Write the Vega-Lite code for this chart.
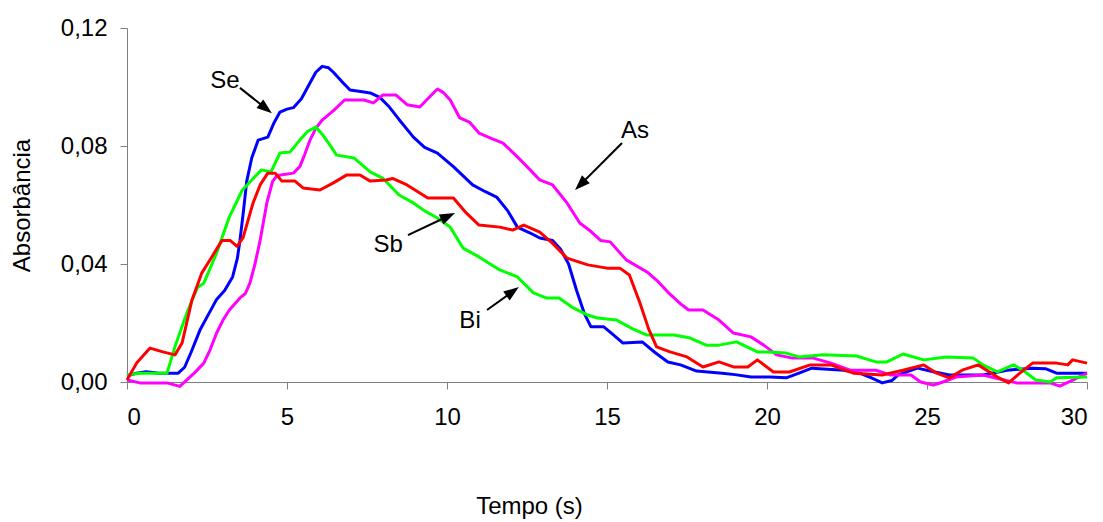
{
  "$schema": "https://vega.github.io/schema/vega-lite/v6.json",
  "width": 960,
  "height": 354,
  "autosize": {"type": "none"},
  "padding": {"left": 127, "top": 28, "right": 16, "bottom": 140},
  "background": "white",
  "config": {
    "view": {"stroke": null},
    "font": "Liberation Sans",
    "axis": {
      "grid": false,
      "domainColor": "#808080",
      "tickColor": "#808080",
      "tickSize": 7,
      "labelFont": "Liberation Sans",
      "labelFontSize": 24,
      "labelColor": "#000000",
      "titleFont": "Liberation Sans",
      "titleFontSize": 24,
      "titleFontWeight": "normal",
      "titleColor": "#000000"
    }
  },
  "datasets": {
    "curves": [
      {"s":"Se","t":0,"a":0.002},{"s":"Se","t":0.3,"a":0.003},{"s":"Se","t":0.6,"a":0.0035},{"s":"Se","t":1.0,"a":0.003},{"s":"Se","t":1.6,"a":0.003},{"s":"Se","t":1.8,"a":0.005},{"s":"Se","t":2.0,"a":0.01},{"s":"Se","t":2.28,"a":0.0176},{"s":"Se","t":2.55,"a":0.023},{"s":"Se","t":2.8,"a":0.028},{"s":"Se","t":3.05,"a":0.031},{"s":"Se","t":3.3,"a":0.0356},{"s":"Se","t":3.45,"a":0.042},{"s":"Se","t":3.53,"a":0.048},{"s":"Se","t":3.64,"a":0.058},{"s":"Se","t":3.74,"a":0.068},{"s":"Se","t":3.9,"a":0.076},{"s":"Se","t":4.1,"a":0.082},{"s":"Se","t":4.4,"a":0.083},{"s":"Se","t":4.6,"a":0.088},{"s":"Se","t":4.78,"a":0.0915},{"s":"Se","t":5.0,"a":0.0925},{"s":"Se","t":5.2,"a":0.093},{"s":"Se","t":5.45,"a":0.096},{"s":"Se","t":5.7,"a":0.101},{"s":"Se","t":5.9,"a":0.105},{"s":"Se","t":6.1,"a":0.107},{"s":"Se","t":6.3,"a":0.1065},{"s":"Se","t":6.45,"a":0.105},{"s":"Se","t":6.7,"a":0.102},{"s":"Se","t":6.97,"a":0.099},{"s":"Se","t":7.3,"a":0.0985},{"s":"Se","t":7.6,"a":0.098},{"s":"Se","t":7.9,"a":0.0965},{"s":"Se","t":8.2,"a":0.0932},{"s":"Se","t":8.5,"a":0.089},{"s":"Se","t":8.95,"a":0.083},{"s":"Se","t":9.3,"a":0.0795},{"s":"Se","t":9.7,"a":0.0776},{"s":"Se","t":10.2,"a":0.073},{"s":"Se","t":10.8,"a":0.0668},{"s":"Se","t":11.2,"a":0.0645},{"s":"Se","t":11.55,"a":0.0627},{"s":"Se","t":11.9,"a":0.058},{"s":"Se","t":12.2,"a":0.0525},{"s":"Se","t":12.6,"a":0.0505},{"s":"Se","t":12.9,"a":0.0488},{"s":"Se","t":13.3,"a":0.048},{"s":"Se","t":13.55,"a":0.045},{"s":"Se","t":13.8,"a":0.04},{"s":"Se","t":14.05,"a":0.031},{"s":"Se","t":14.3,"a":0.023},{"s":"Se","t":14.5,"a":0.0187},{"s":"Se","t":14.9,"a":0.0187},{"s":"Se","t":15.2,"a":0.016},{"s":"Se","t":15.5,"a":0.0132},{"s":"Se","t":16.1,"a":0.0136},{"s":"Se","t":16.5,"a":0.01},{"s":"Se","t":16.9,"a":0.0068},{"s":"Se","t":17.3,"a":0.0058},{"s":"Se","t":17.8,"a":0.0037},{"s":"Se","t":18.6,"a":0.003},{"s":"Se","t":19.0,"a":0.0025},{"s":"Se","t":19.5,"a":0.0017},{"s":"Se","t":20.1,"a":0.0017},{"s":"Se","t":20.6,"a":0.0014},{"s":"Se","t":21.0,"a":0.003},{"s":"Se","t":21.4,"a":0.0047},{"s":"Se","t":22.4,"a":0.004},{"s":"Se","t":22.9,"a":0.003},{"s":"Se","t":23.2,"a":0.0017},{"s":"Se","t":23.6,"a":-0.0003},{"s":"Se","t":23.9,"a":0.0005},{"s":"Se","t":24.1,"a":0.0024},{"s":"Se","t":24.7,"a":0.0047},{"s":"Se","t":25.2,"a":0.0035},{"s":"Se","t":25.7,"a":0.0024},{"s":"Se","t":26.75,"a":0.0024},{"s":"Se","t":27.5,"a":0.004},{"s":"Se","t":28.3,"a":0.0047},{"s":"Se","t":28.7,"a":0.0045},{"s":"Se","t":29.05,"a":0.003},{"s":"Se","t":30,"a":0.003},
      {"s":"As","t":0,"a":0.0007},{"s":"As","t":0.4,"a":-0.0003},{"s":"As","t":1.25,"a":-0.0003},{"s":"As","t":1.65,"a":-0.0015},{"s":"As","t":1.87,"a":0.0007},{"s":"As","t":2.1,"a":0.003},{"s":"As","t":2.4,"a":0.0064},{"s":"As","t":2.6,"a":0.011},{"s":"As","t":2.8,"a":0.0166},{"s":"As","t":3.0,"a":0.021},{"s":"As","t":3.2,"a":0.0244},{"s":"As","t":3.53,"a":0.0285},{"s":"As","t":3.7,"a":0.03},{"s":"As","t":3.84,"a":0.0335},{"s":"As","t":4.0,"a":0.04},{"s":"As","t":4.16,"a":0.048},{"s":"As","t":4.37,"a":0.0607},{"s":"As","t":4.55,"a":0.068},{"s":"As","t":4.69,"a":0.07},{"s":"As","t":5.2,"a":0.0708},{"s":"As","t":5.4,"a":0.073},{"s":"As","t":5.55,"a":0.077},{"s":"As","t":5.72,"a":0.082},{"s":"As","t":5.9,"a":0.086},{"s":"As","t":6.1,"a":0.0888},{"s":"As","t":6.45,"a":0.092},{"s":"As","t":6.8,"a":0.0956},{"s":"As","t":7.4,"a":0.0956},{"s":"As","t":7.7,"a":0.0946},{"s":"As","t":8.0,"a":0.0973},{"s":"As","t":8.4,"a":0.0973},{"s":"As","t":8.75,"a":0.094},{"s":"As","t":9.15,"a":0.0932},{"s":"As","t":9.4,"a":0.096},{"s":"As","t":9.7,"a":0.0993},{"s":"As","t":9.9,"a":0.098},{"s":"As","t":10.1,"a":0.0956},{"s":"As","t":10.4,"a":0.0895},{"s":"As","t":10.7,"a":0.0881},{"s":"As","t":11.0,"a":0.0844},{"s":"As","t":11.4,"a":0.0825},{"s":"As","t":11.75,"a":0.081},{"s":"As","t":12.2,"a":0.0763},{"s":"As","t":12.5,"a":0.073},{"s":"As","t":12.9,"a":0.0685},{"s":"As","t":13.3,"a":0.0668},{"s":"As","t":13.75,"a":0.0607},{"s":"As","t":14.15,"a":0.0539},{"s":"As","t":14.5,"a":0.051},{"s":"As","t":14.8,"a":0.048},{"s":"As","t":15.1,"a":0.0475},{"s":"As","t":15.6,"a":0.0414},{"s":"As","t":16.25,"a":0.0373},{"s":"As","t":16.6,"a":0.034},{"s":"As","t":16.9,"a":0.0305},{"s":"As","t":17.3,"a":0.0265},{"s":"As","t":17.55,"a":0.0244},{"s":"As","t":18.0,"a":0.0244},{"s":"As","t":18.5,"a":0.021},{"s":"As","t":18.95,"a":0.0166},{"s":"As","t":19.5,"a":0.0153},{"s":"As","t":19.9,"a":0.0125},{"s":"As","t":20.3,"a":0.0092},{"s":"As","t":20.8,"a":0.0081},{"s":"As","t":21.45,"a":0.0081},{"s":"As","t":22.0,"a":0.0064},{"s":"As","t":22.6,"a":0.004},{"s":"As","t":23.4,"a":0.004},{"s":"As","t":23.85,"a":0.0024},{"s":"As","t":24.5,"a":0.0024},{"s":"As","t":24.8,"a":0},{"s":"As","t":25.2,"a":-0.001},{"s":"As","t":25.5,"a":0},{"s":"As","t":25.9,"a":0.0017},{"s":"As","t":26.75,"a":0.0024},{"s":"As","t":27.4,"a":0.0007},{"s":"As","t":27.8,"a":-0.0003},{"s":"As","t":28.85,"a":-0.0003},{"s":"As","t":29.15,"a":-0.0014},{"s":"As","t":29.7,"a":0.0014},{"s":"As","t":30,"a":0.003},
      {"s":"Bi","t":0,"a":0.0024},{"s":"Bi","t":0.4,"a":0.003},{"s":"Bi","t":1.25,"a":0.003},{"s":"Bi","t":1.5,"a":0.012},{"s":"Bi","t":1.87,"a":0.0234},{"s":"Bi","t":2.2,"a":0.032},{"s":"Bi","t":2.4,"a":0.0335},{"s":"Bi","t":2.8,"a":0.0437},{"s":"Bi","t":3.2,"a":0.056},{"s":"Bi","t":3.6,"a":0.065},{"s":"Bi","t":3.9,"a":0.0685},{"s":"Bi","t":4.2,"a":0.0719},{"s":"Bi","t":4.5,"a":0.0712},{"s":"Bi","t":4.78,"a":0.0776},{"s":"Bi","t":5.1,"a":0.078},{"s":"Bi","t":5.4,"a":0.082},{"s":"Bi","t":5.65,"a":0.085},{"s":"Bi","t":5.9,"a":0.0864},{"s":"Bi","t":6.1,"a":0.084},{"s":"Bi","t":6.3,"a":0.081},{"s":"Bi","t":6.55,"a":0.0769},{"s":"Bi","t":7.1,"a":0.0759},{"s":"Bi","t":7.6,"a":0.0712},{"s":"Bi","t":8.0,"a":0.069},{"s":"Bi","t":8.2,"a":0.0668},{"s":"Bi","t":8.5,"a":0.0634},{"s":"Bi","t":8.95,"a":0.0607},{"s":"Bi","t":9.3,"a":0.058},{"s":"Bi","t":9.7,"a":0.0556},{"s":"Bi","t":10.1,"a":0.0525},{"s":"Bi","t":10.5,"a":0.0454},{"s":"Bi","t":11.0,"a":0.0424},{"s":"Bi","t":11.65,"a":0.038},{"s":"Bi","t":12.2,"a":0.0356},{"s":"Bi","t":12.7,"a":0.0302},{"s":"Bi","t":13.1,"a":0.0285},{"s":"Bi","t":13.5,"a":0.0285},{"s":"Bi","t":13.9,"a":0.0254},{"s":"Bi","t":14.4,"a":0.0227},{"s":"Bi","t":14.7,"a":0.0217},{"s":"Bi","t":15.3,"a":0.021},{"s":"Bi","t":15.8,"a":0.018},{"s":"Bi","t":16.25,"a":0.0159},{"s":"Bi","t":17.1,"a":0.0159},{"s":"Bi","t":17.6,"a":0.0149},{"s":"Bi","t":18.1,"a":0.0125},{"s":"Bi","t":18.5,"a":0.0125},{"s":"Bi","t":19.05,"a":0.0136},{"s":"Bi","t":19.7,"a":0.0102},{"s":"Bi","t":20.0,"a":0.0102},{"s":"Bi","t":20.6,"a":0.0098},{"s":"Bi","t":21.0,"a":0.0085},{"s":"Bi","t":21.75,"a":0.0092},{"s":"Bi","t":22.8,"a":0.0088},{"s":"Bi","t":23.4,"a":0.0068},{"s":"Bi","t":23.75,"a":0.0068},{"s":"Bi","t":24.25,"a":0.0095},{"s":"Bi","t":24.9,"a":0.0075},{"s":"Bi","t":25.6,"a":0.0085},{"s":"Bi","t":26.45,"a":0.0081},{"s":"Bi","t":26.75,"a":0.0058},{"s":"Bi","t":27.2,"a":0.0034},{"s":"Bi","t":27.7,"a":0.0058},{"s":"Bi","t":28.0,"a":0.004},{"s":"Bi","t":28.4,"a":0.0007},{"s":"Bi","t":28.85,"a":0},{"s":"Bi","t":29.05,"a":0.0014},{"s":"Bi","t":30,"a":0.0017},
      {"s":"Sb","t":0,"a":0.0007},{"s":"Sb","t":0.3,"a":0.0064},{"s":"Sb","t":0.72,"a":0.0115},{"s":"Sb","t":1.12,"a":0.0102},{"s":"Sb","t":1.5,"a":0.0092},{"s":"Sb","t":1.72,"a":0.0132},{"s":"Sb","t":2.03,"a":0.0278},{"s":"Sb","t":2.34,"a":0.037},{"s":"Sb","t":2.65,"a":0.0424},{"s":"Sb","t":2.97,"a":0.048},{"s":"Sb","t":3.22,"a":0.048},{"s":"Sb","t":3.44,"a":0.046},{"s":"Sb","t":3.63,"a":0.049},{"s":"Sb","t":3.94,"a":0.0607},{"s":"Sb","t":4.16,"a":0.0668},{"s":"Sb","t":4.4,"a":0.0708},{"s":"Sb","t":4.63,"a":0.0708},{"s":"Sb","t":4.84,"a":0.0681},{"s":"Sb","t":5.25,"a":0.0681},{"s":"Sb","t":5.5,"a":0.0658},{"s":"Sb","t":6.03,"a":0.0651},{"s":"Sb","t":6.45,"a":0.0675},{"s":"Sb","t":6.87,"a":0.0702},{"s":"Sb","t":7.28,"a":0.0702},{"s":"Sb","t":7.6,"a":0.0681},{"s":"Sb","t":8.1,"a":0.0685},{"s":"Sb","t":8.3,"a":0.069},{"s":"Sb","t":8.75,"a":0.0668},{"s":"Sb","t":9.4,"a":0.0624},{"s":"Sb","t":10.2,"a":0.0624},{"s":"Sb","t":10.6,"a":0.0573},{"s":"Sb","t":11.0,"a":0.0532},{"s":"Sb","t":11.65,"a":0.0525},{"s":"Sb","t":12.05,"a":0.0515},{"s":"Sb","t":12.4,"a":0.0532},{"s":"Sb","t":12.9,"a":0.0508},{"s":"Sb","t":13.3,"a":0.047},{"s":"Sb","t":13.75,"a":0.042},{"s":"Sb","t":14.4,"a":0.0397},{"s":"Sb","t":15.0,"a":0.0386},{"s":"Sb","t":15.4,"a":0.0386},{"s":"Sb","t":15.7,"a":0.0363},{"s":"Sb","t":16.03,"a":0.0268},{"s":"Sb","t":16.3,"a":0.018},{"s":"Sb","t":16.55,"a":0.0119},{"s":"Sb","t":16.97,"a":0.0102},{"s":"Sb","t":17.5,"a":0.0085},{"s":"Sb","t":18.0,"a":0.0051},{"s":"Sb","t":18.5,"a":0.0068},{"s":"Sb","t":18.95,"a":0.0051},{"s":"Sb","t":19.4,"a":0.0051},{"s":"Sb","t":19.7,"a":0.0075},{"s":"Sb","t":20.2,"a":0.0034},{"s":"Sb","t":20.7,"a":0.0034},{"s":"Sb","t":21.35,"a":0.0058},{"s":"Sb","t":22.0,"a":0.0058},{"s":"Sb","t":22.7,"a":0.003},{"s":"Sb","t":23.6,"a":0.0024},{"s":"Sb","t":24.25,"a":0.004},{"s":"Sb","t":24.9,"a":0.0058},{"s":"Sb","t":25.3,"a":0.003},{"s":"Sb","t":25.7,"a":0.0014},{"s":"Sb","t":26.1,"a":0.004},{"s":"Sb","t":26.6,"a":0.0058},{"s":"Sb","t":27.2,"a":0.0017},{"s":"Sb","t":27.55,"a":-0.0003},{"s":"Sb","t":27.9,"a":0.003},{"s":"Sb","t":28.3,"a":0.0064},{"s":"Sb","t":29.05,"a":0.0064},{"s":"Sb","t":29.4,"a":0.0058},{"s":"Sb","t":29.55,"a":0.0075},{"s":"Sb","t":30,"a":0.0064}
    ],
    "labels": [
      {"label":"Se","x":3.06,"y":0.102},
      {"label":"As","x":15.875,"y":0.0851},
      {"label":"Sb","x":8.16,"y":0.0464},
      {"label":"Bi","x":10.72,"y":0.0207}
    ],
    "arrows": [
      {"label":"Se","x":3.53,"y":0.0997,"x2":4.32,"y2":0.0929,"angle":128},
      {"label":"As","x":15.47,"y":0.081,"x2":14.19,"y2":0.0671,"angle":225},
      {"label":"Sb","x":8.78,"y":0.0498,"x2":10.01,"y2":0.0561,"angle":64.9},
      {"label":"Bi","x":11.25,"y":0.0244,"x2":12.03,"y2":0.0305,"angle":54.3}
    ]
  },
  "layer": [
    {
      "data": {"name": "curves"},
      "mark": {"type": "line", "strokeWidth": 3, "strokeJoin": "round", "clip": false},
      "encoding": {
        "x": {
          "field": "t", "type": "quantitative",
          "scale": {"domain": [0, 30], "nice": false, "zero": false},
          "axis": {
            "values": [0, 5, 10, 15, 20, 25, 30],
            "title": "Tempo (s)",
            "labelPadding": 16,
            "titleX": 402, "titleY": 131, "titleAnchor": null, "titleAlign": "center", "titleBaseline": "alphabetic"
          }
        },
        "y": {
          "field": "a", "type": "quantitative",
          "scale": {"domain": [0, 0.12], "nice": false, "zero": false},
          "axis": {
            "values": [0, 0.04, 0.08, 0.12],
            "labelExpr": "replace(format(datum.value, '.2f'), '.', ',')",
            "labelPadding": 13,
            "title": "Absorbância",
            "titleX": -105, "titleY": 177, "titleAlign": "center", "titleBaseline": "middle", "titleAngle": -90
          }
        },
        "color": {
          "field": "s", "type": "nominal",
          "scale": {"domain": ["Bi", "Sb", "As", "Se"], "range": ["#00FF00", "#FF0000", "#FF00FF", "#0000FF"]},
          "legend": null
        },
        "order": {"field": "t", "type": "quantitative"}
      }
    },
    {
      "data": {"name": "arrows"},
      "mark": {"type": "rule", "color": "#000000", "strokeWidth": 2},
      "encoding": {
        "x": {"field": "x", "type": "quantitative", "title": "Tempo (s)"},
        "y": {"field": "y", "type": "quantitative", "title": "Absorbância"},
        "x2": {"field": "x2"},
        "y2": {"field": "y2"}
      }
    },
    {
      "data": {"name": "arrows"},
      "mark": {"type": "point", "shape": "M0,-1L0.65,0.8L-0.65,0.8Z", "filled": true, "color": "#000000", "opacity": 1, "size": 289},
      "encoding": {
        "x": {"field": "x2", "type": "quantitative", "title": "Tempo (s)"},
        "y": {"field": "y2", "type": "quantitative", "title": "Absorbância"},
        "angle": {"field": "angle", "type": "quantitative", "scale": null}
      }
    },
    {
      "data": {"name": "labels"},
      "mark": {"type": "text", "font": "Liberation Sans", "fontSize": 24, "align": "center", "baseline": "middle", "color": "#000000"},
      "encoding": {
        "x": {"field": "x", "type": "quantitative", "title": "Tempo (s)"},
        "y": {"field": "y", "type": "quantitative", "title": "Absorbância"},
        "text": {"field": "label"}
      }
    }
  ]
}
